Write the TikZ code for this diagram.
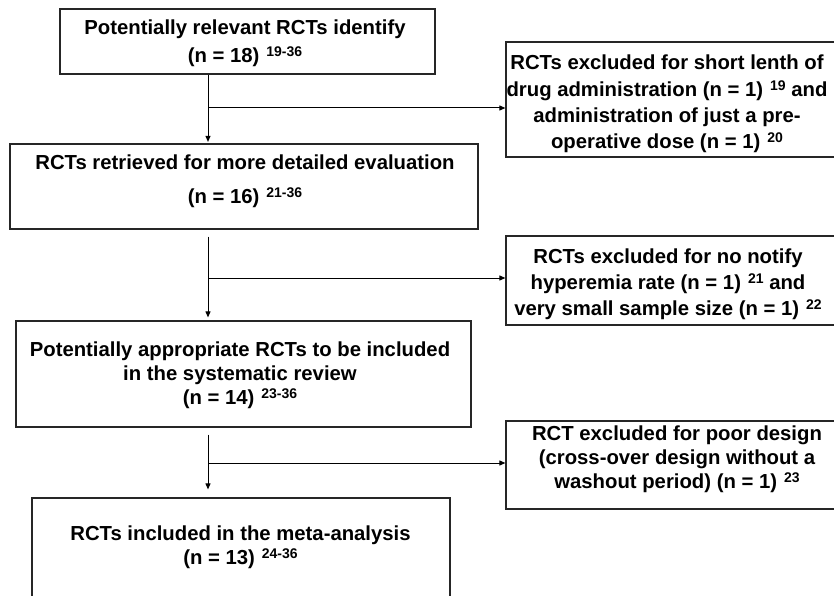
\documentclass[tikz,border=0pt]{standalone}
\usepackage{fontspec}
\setmainfont{Liberation Sans}
\usetikzlibrary{arrows.meta}
% raised reference numbers, set off from the preceding text
\newcommand\refnum[1]{\hspace{7pt}\raisebox{6pt}{\fontsize{14}{14}\selectfont #1}}
\begin{document}
\begin{tikzpicture}[x=1pt,y=-1pt,
  box/.style={draw=black!85, line width=1.2pt, rectangle, inner sep=0pt},
  txt/.style={align=center, inner sep=0pt, font=\fontsize{20.3}{#1}\selectfont\bfseries},
  txt/.default=26,
  conn/.style={line width=1pt, -{Triangle[length=6pt,width=5pt]}},
  branch/.style={line width=1pt, -{Triangle[length=6pt,width=5pt]}}]
\useasboundingbox (0,0) rectangle (834,596);

% main column of boxes
\node[box, minimum width=375, minimum height=65]  (b1) at (247.5,41.5) {};
\node[txt=28] (t1) at (245,43) {Potentially relevant RCTs identify\\(n = 18)\refnum{19-36}};

\node[box, minimum width=468, minimum height=85]  (b3) at (244,186.5) {};
\node[txt=34] (t3) at (245,181.5) {RCTs retrieved for more detailed evaluation\\(n = 16)\refnum{21-36}};

\node[box, minimum width=455, minimum height=106] (b5) at (243.5,374) {};
\node[txt=24] (t5) at (240,375.5) {Potentially appropriate RCTs to be included\\in the systematic review\\(n = 14)\refnum{23-36}};

\node[box, minimum width=418, minimum height=122] (b6) at (241,559) {};
\node[txt=24] (t6) at (240.5,547) {RCTs included in the meta-analysis\\(n = 13)\refnum{24-36}};

% exclusion boxes on the right
\node[box, minimum width=330, minimum height=115] (b2) at (671,99.5) {};
\node[txt=26.3] (t2) at (667,104) {RCTs excluded for short lenth of\\drug administration (n = 1)\refnum{19} and\\administration of just a pre-\\operative dose (n = 1)\refnum{20}};

\node[box, minimum width=330, minimum height=89]  (b4) at (671,280.5) {};
\node[txt=26] (t4) at (668,284) {RCTs excluded for no notify\\hyperemia rate (n = 1)\refnum{21} and\\very small sample size (n = 1)\refnum{22}};

\node[box, minimum width=330, minimum height=88]  (b7) at (671,465) {};
\node[txt=24] (t7) at (677,459.5) {RCT excluded for poor design\\(cross-over design without a\\washout period) (n = 1)\refnum{23}};

% flow connectors
\coordinate (sx) at (208,0);
\draw[conn, shorten >=1.5pt] (b1.south -| sx) -- (b3.north -| sx);
\draw[conn, shorten <=7pt, shorten >=3pt] (b3.south -| sx) -- (b5.north -| sx);
\draw[conn, shorten <=7pt, shorten >=8pt] (b5.south -| sx) -- (b6.north -| sx);

% exclusion branches
\coordinate (j1) at (208,108);
\coordinate (j2) at (208,278);
\coordinate (j3) at (208,463);
\draw[branch] (j1) -- (j1 -| b2.west);
\draw[branch] (j2) -- (j2 -| b4.west);
\draw[branch] (j3) -- (j3 -| b7.west);
\end{tikzpicture}
\end{document}
